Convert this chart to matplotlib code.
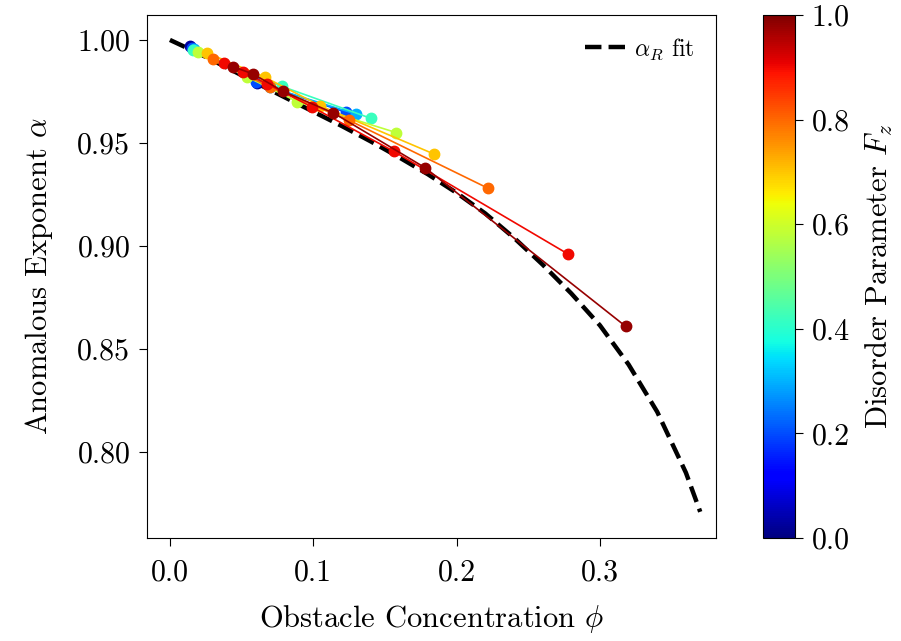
import matplotlib
matplotlib.use("Agg")
import matplotlib.pyplot as plt
import numpy as np
from matplotlib import cm
from matplotlib.colors import Normalize

plt.rcParams['font.family'] = 'serif'
plt.rcParams['font.serif'] = ['cmr10', 'DejaVu Serif']
plt.rcParams['mathtext.fontset'] = 'cm'
plt.rcParams['axes.formatter.use_mathtext'] = True
plt.rcParams['axes.unicode_minus'] = False

# Fit curve alpha_R(phi)
fit_phi = [0.0, 0.02, 0.04, 0.06, 0.08, 0.10, 0.12, 0.14, 0.16, 0.18, 0.20,
           0.22, 0.24, 0.26, 0.28, 0.30, 0.32, 0.34, 0.36, 0.37]
fit_alpha = [1.0, 0.9935, 0.9865, 0.9792, 0.9722, 0.9652, 0.9582, 0.9508,
             0.9430, 0.9348, 0.9258, 0.9158, 0.9040, 0.8910, 0.8770, 0.8615,
             0.8425, 0.8195, 0.7900, 0.7710]

# Simulation series, one per disorder parameter F_z
fz_values = [0.03, 0.2, 0.3, 0.42, 0.58, 0.7, 0.8, 0.9, 0.98]
phi_series = [
    [0.014, 0.061],
    [0.0154, 0.060, 0.1225],
    [0.0165, 0.070, 0.130],
    [0.016, 0.078, 0.140],
    [0.0195, 0.054, 0.089, 0.158],
    [0.026, 0.066, 0.105, 0.184],
    [0.030, 0.070, 0.125, 0.222],
    [0.038, 0.051, 0.068, 0.099, 0.156, 0.278],
    [0.044, 0.058, 0.079, 0.114, 0.178, 0.318],
]
alpha_series = [
    [0.997, 0.979],
    [0.996, 0.9795, 0.9650],
    [0.9955, 0.977, 0.9640],
    [0.995, 0.9775, 0.9620],
    [0.994, 0.982, 0.970, 0.955],
    [0.9937, 0.982, 0.968, 0.9447],
    [0.9908, 0.977, 0.961, 0.928],
    [0.9888, 0.9845, 0.9786, 0.9675, 0.946, 0.896],
    [0.987, 0.9835, 0.975, 0.9646, 0.938, 0.861],
]

fig = plt.figure(figsize=(9.01, 6.41), dpi=100)
ax = fig.add_axes([147/901, 103/641, 569/901, 523/641])
cax = fig.add_axes([763/901, 103/641, 32/901, 523/641])

norm = Normalize(0, 1)
cmap = cm.jet

ax.plot(fit_phi, fit_alpha, 'k--', lw=3.2, zorder=1, label=r'$\alpha_R$ fit')

for i, (fz, ph, al) in enumerate(zip(fz_values, phi_series, alpha_series)):
    c = cmap(norm(fz))
    ax.plot(ph, al, '-', color=c, lw=1.2, zorder=2 + i)
    ax.plot(ph, al, 'o', color=c, ms=7.5, zorder=2 + i)

ax.set_xlim(-0.016, 0.381)
ax.set_ylim(0.7583, 1.0121)
ax.set_xticks([0.0, 0.1, 0.2, 0.3])
ax.set_yticks([0.80, 0.85, 0.90, 0.95, 1.00])
ax.set_xticklabels(['0.0', '0.1', '0.2', '0.3'])
ax.set_yticklabels(['0.80', '0.85', '0.90', '0.95', '1.00'])
ax.tick_params(labelsize=21.5, length=6, pad=6)
ax.tick_params(axis='x', pad=9)
ax.set_xlabel(r'Obstacle Concentration $\phi$', fontsize=22, labelpad=12)
ax.set_ylabel(r'Anomalous Exponent $\alpha$', fontsize=22, labelpad=16)
ax.legend(loc='upper right', frameon=False, fontsize=17, handlelength=1.7,
          handletextpad=0.4)

sm = cm.ScalarMappable(norm=norm, cmap=cmap)
sm.set_array([])
cb = fig.colorbar(sm, cax=cax)
cb.set_ticks([0.0, 0.2, 0.4, 0.6, 0.8, 1.0])
cb.set_ticklabels(['0.0', '0.2', '0.4', '0.6', '0.8', '1.0'])
cb.ax.tick_params(labelsize=21.5, length=6, pad=6)
cb.set_label(r'Disorder Parameter $F_z$', fontsize=22, labelpad=10)

fig.savefig('out.png', dpi=100)
